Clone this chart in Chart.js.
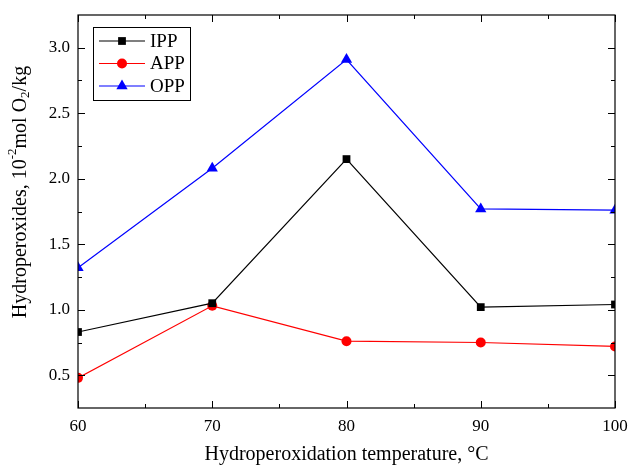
<!DOCTYPE html>
<html>
<head>
<meta charset="utf-8">
<script src="https://cdn.jsdelivr.net/npm/chart.js@4"></script>
<style>
  html, body { margin: 0; padding: 0; background: #fff; }
  #wrap { width: 628px; height: 465px; }
</style>
</head>
<body>
<div id="wrap"><canvas id="chart" width="628" height="465"></canvas></div>
<script>
const temps = [60, 70, 80, 90, 100];
const ipp = [0.83, 1.05, 2.15, 1.02, 1.04];
const app = [0.48, 1.03, 0.76, 0.75, 0.72];
const opp = [1.32, 2.08, 2.91, 1.77, 1.76];
const xTicks = [60, 70, 80, 90, 100];
const yTicks = [0.5, 1.0, 1.5, 2.0, 2.5, 3.0];

const FONT = "'Liberation Serif', 'Times New Roman', serif";

const toPoints = (vals) => vals.map((v, i) => ({ x: temps[i], y: v }));

// frame, inward ticks, y title and legend
const decor = {
  id: 'decor',
  afterDraw(chart) {
    const { ctx, chartArea: a, scales: { x, y } } = chart;
    ctx.save();
    ctx.strokeStyle = '#000';
    ctx.lineWidth = 1.2;
    ctx.strokeRect(a.left, a.top, a.right - a.left, a.bottom - a.top);

    ctx.lineWidth = 1;
    ctx.beginPath();
    for (let v = 60; v <= 100; v += 5) {
      const px = Math.round(x.getPixelForValue(v)) + 0.5;
      const len = v % 10 === 0 ? 7 : 4;
      ctx.moveTo(px, a.bottom); ctx.lineTo(px, a.bottom - len);
      ctx.moveTo(px, a.top); ctx.lineTo(px, a.top + len);
    }
    for (let v = 0.5; v <= 3.0001; v += 0.25) {
      const py = Math.round(y.getPixelForValue(v)) + 0.5;
      const len = Math.abs(v * 2 - Math.round(v * 2)) < 1e-6 ? 7 : 4;
      ctx.moveTo(a.left, py); ctx.lineTo(a.left + len, py);
      ctx.moveTo(a.right, py); ctx.lineTo(a.right - len, py);
    }
    ctx.stroke();

    // y axis title with super/subscripts
    ctx.fillStyle = '#000';
    ctx.translate(21, 192);
    ctx.rotate(-Math.PI / 2);
    const parts = [
      ['Hydroperoxides, 10', 20, 0],
      ['-2', 13, -8],
      ['mol O', 20, 0],
      ['2', 13, 5],
      ['/kg', 20, 0]
    ];
    let total = 0;
    parts.forEach(p => { ctx.font = p[1] + 'px ' + FONT; total += ctx.measureText(p[0]).width; });
    let cx = -total / 2;
    ctx.textBaseline = 'middle';
    ctx.textAlign = 'left';
    parts.forEach(p => {
      ctx.font = p[1] + 'px ' + FONT;
      ctx.fillText(p[0], cx, p[2]);
      cx += ctx.measureText(p[0]).width;
    });
    ctx.restore();

    // legend box
    ctx.save();
    ctx.strokeStyle = '#000';
    ctx.lineWidth = 1;
    ctx.strokeRect(93.5, 27.5, 97, 73);
    chart.data.datasets.forEach((ds, i) => {
      const ly = 41 + i * 22.5;
      ctx.strokeStyle = ds.borderColor;
      ctx.lineWidth = 1.2;
      ctx.beginPath(); ctx.moveTo(99, ly); ctx.lineTo(145, ly); ctx.stroke();
      ctx.fillStyle = ds.pointBackgroundColor;
      Chart.helpers.drawPoint(ctx, { pointStyle: ds.pointStyle, radius: ds.pointRadius, borderWidth: 0 }, 122, ly);
      ctx.fillStyle = '#000';
      ctx.font = '19px ' + FONT;
      ctx.textBaseline = 'middle';
      ctx.fillText(ds.label, 150, ly + 1);
    });
    ctx.restore();
  }
};

new Chart(document.getElementById('chart'), {
  type: 'line',
  data: {
    datasets: [
      { label: 'IPP', data: toPoints(ipp), borderColor: '#000', pointBackgroundColor: '#000', pointBorderColor: '#000', pointStyle: 'rect', pointRadius: 5.5 },
      { label: 'APP', data: toPoints(app), borderColor: '#ff0000', pointBackgroundColor: '#ff0000', pointBorderColor: '#ff0000', pointStyle: 'circle', pointRadius: 5 },
      { label: 'OPP', data: toPoints(opp), borderColor: '#0000ff', pointBackgroundColor: '#0000ff', pointBorderColor: '#0000ff', pointStyle: 'triangle', pointRadius: 6.5 }
    ]
  },
  options: {
    responsive: false,
    animation: false,
    elements: { line: { borderWidth: 1.2, tension: 0 }, point: { borderWidth: 0, hoverRadius: 5 } },
    layout: { padding: { left: 0, right: 13, top: 15, bottom: 0 } },
    plugins: { legend: { display: false }, tooltip: { enabled: false } },
    scales: {
      x: {
        type: 'linear', min: 60, max: 100,
        afterBuildTicks: (s) => { s.ticks = xTicks.map(v => ({ value: v })); },
        afterFit: (s) => { s.height = 57; s.paddingLeft = 0; s.paddingRight = 0; },
        grid: { display: false, drawTicks: false },
        border: { display: false },
        ticks: { color: '#000', font: { family: FONT, size: 17 }, padding: 8, maxRotation: 0 },
        title: { display: true, text: 'Hydroperoxidation temperature, °C', color: '#000', font: { family: FONT, size: 20, lineHeight: 1 }, padding: { top: 0, bottom: 0 } }
      },
      y: {
        min: 0.25, max: 3.25,
        afterBuildTicks: (s) => { s.ticks = yTicks.map(v => ({ value: v })); },
        afterFit: (s) => { s.width = 78; s.paddingTop = 0; s.paddingBottom = 0; },
        grid: { display: false, drawTicks: false },
        border: { display: false },
        ticks: { color: '#000', font: { family: FONT, size: 17 }, padding: 8, callback: (v) => v.toFixed(1) }
      }
    }
  },
  plugins: [decor]
});
</script>
</body>
</html>
